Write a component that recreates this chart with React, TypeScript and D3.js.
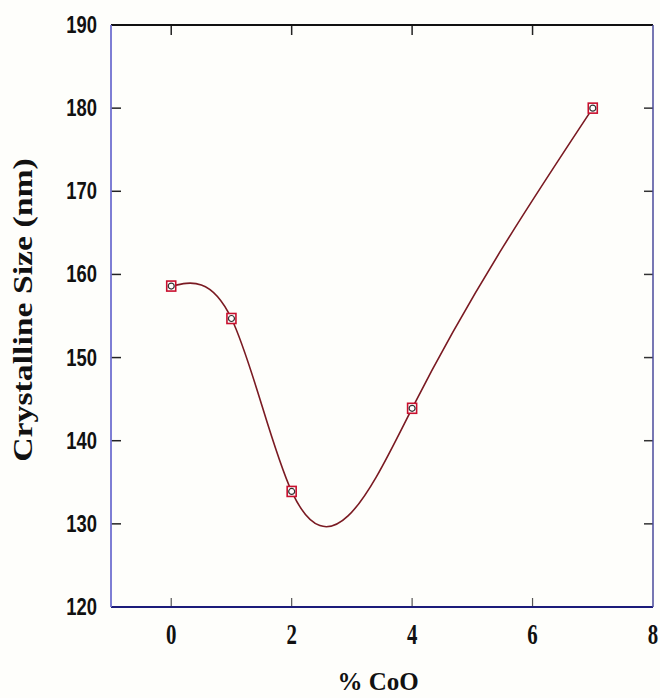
import * as d3 from "d3";
import React, { useEffect, useRef } from "react";

// CoO content (%) and measured crystalline size (nm)
const coo = [0, 1, 2, 4, 7];
const sizeNm = [158.6, 154.7, 133.9, 143.9, 180];

const xTicks = [0, 2, 4, 6, 8];
const yTicks = [120, 130, 140, 150, 160, 170, 180, 190];

const W = 660;
const H = 698;
const margin = { top: 25, right: 7, bottom: 91, left: 111 };

// natural cubic spline y(x) -> slopes at the knots
function splineSlopes(xs: number[], ys: number[]) {
    const n = xs.length - 1;
    const h = d3.range(n).map(i => xs[i + 1] - xs[i]);
    const d = d3.range(n).map(i => (ys[i + 1] - ys[i]) / h[i]);
    // tridiagonal solve for second derivatives, M0 = Mn = 0
    const a: number[] = [], b: number[] = [], c: number[] = [], r: number[] = [];
    for (let i = 1; i < n; i++) {
        a.push(h[i - 1]); b.push(2 * (h[i - 1] + h[i])); c.push(h[i]);
        r.push(6 * (d[i] - d[i - 1]));
    }
    const m = a.length;
    for (let i = 1; i < m; i++) {
        const w = a[i] / b[i - 1];
        b[i] -= w * c[i - 1];
        r[i] -= w * r[i - 1];
    }
    const inner = new Array(m).fill(0);
    for (let i = m - 1; i >= 0; i--) {
        inner[i] = (r[i] - (i < m - 1 ? c[i] * inner[i + 1] : 0)) / b[i];
    }
    const M = [0, ...inner, 0];
    const slopes = d3.range(n).map(i => d[i] - h[i] * (2 * M[i] + M[i + 1]) / 6);
    slopes.push(d[n - 1] + h[n - 1] * (M[n - 1] + 2 * M[n]) / 6);
    return slopes;
}

export default function App() {
    const svgRef = useRef<SVGSVGElement>(null);

    useEffect(() => {
        document.body.style.margin = "0";
        const svg = d3.select(svgRef.current);
        svg.selectAll("*").remove();

        const width = W - margin.left - margin.right;
        const height = H - margin.top - margin.bottom;

        const x = d3.scaleLinear().domain([-1, 8]).range([0, width]);
        const y = d3.scaleLinear().domain([120, 190]).range([height, 0]);

        svg.append("rect").attr("width", W).attr("height", H).attr("fill", "#fefefb");

        const g = svg.append("g")
            .attr("transform", `translate(${margin.left},${margin.top})`);

        // inward ticks
        const inner = xTicks.filter(d => d > -1 && d < 8);
        const innerY = yTicks.filter(d => d > 120 && d < 190);
        g.append("g").selectAll("line").data(inner).join("line")
            .attr("x1", d => x(d)).attr("x2", d => x(d))
            .attr("y1", height).attr("y2", height - 9)
            .attr("stroke", "#555").attr("stroke-width", 1.2);
        g.append("g").selectAll("line").data(inner).join("line")
            .attr("x1", d => x(d)).attr("x2", d => x(d))
            .attr("y1", 0).attr("y2", 10)
            .attr("stroke", "#222").attr("stroke-width", 1.5);
        g.append("g").selectAll("line").data(innerY).join("line")
            .attr("x1", 0).attr("x2", 10)
            .attr("y1", d => y(d)).attr("y2", d => y(d))
            .attr("stroke", "#222").attr("stroke-width", 1.5);
        g.append("g").selectAll("line").data(innerY).join("line")
            .attr("x1", width).attr("x2", width - 9)
            .attr("y1", d => y(d)).attr("y2", d => y(d))
            .attr("stroke", "#333").attr("stroke-width", 1.5);

        // frame
        g.append("line").attr("x1", 0).attr("x2", width).attr("y1", 0).attr("y2", 0)
            .attr("stroke", "#111").attr("stroke-width", 1.8);
        g.append("line").attr("x1", 0).attr("x2", width).attr("y1", height).attr("y2", height)
            .attr("stroke", "#1c1c7a").attr("stroke-width", 2);
        g.append("line").attr("x1", 0).attr("x2", 0).attr("y1", 0).attr("y2", height)
            .attr("stroke", "#7070d0").attr("stroke-width", 1.8);
        g.append("line").attr("x1", width).attr("x2", width).attr("y1", 0).attr("y2", height)
            .attr("stroke", "#4a4a9a").attr("stroke-width", 1.5);

        // tick labels
        g.append("g").selectAll("text").data(yTicks).join("text")
            .attr("transform", d => `translate(-14,${y(d) + 8}) scale(0.8,1)`)
            .attr("text-anchor", "end")
            .attr("font-family", "Liberation Sans, Arial, sans-serif")
            .attr("font-weight", "bold").attr("font-size", 23)
            .attr("fill", "#111")
            .text(d => d);
        g.append("g").selectAll("text").data(xTicks).join("text")
            .attr("transform", d => `translate(${x(d)},${height + 37}) scale(0.72,1)`)
            .attr("text-anchor", "middle")
            .attr("font-family", "Liberation Serif, Times New Roman, serif")
            .attr("font-weight", "bold").attr("font-size", 29)
            .attr("fill", "#111")
            .text(d => d);

        // axis titles
        svg.append("text")
            .attr("transform", `translate(32,310) rotate(-90) scale(1.25,1)`)
            .attr("text-anchor", "middle")
            .attr("font-family", "Liberation Serif, Times New Roman, serif")
            .attr("font-weight", "bold").attr("font-size", 27)
            .attr("fill", "#111")
            .text("Crystalline Size (nm)");
        svg.append("text")
            .attr("transform", `translate(378,690)`)
            .attr("text-anchor", "middle")
            .attr("font-family", "Liberation Serif, Times New Roman, serif")
            .attr("font-weight", "bold").attr("font-size", 25)
            .attr("fill", "#111")
            .text("% CoO");

        // natural cubic spline through the points, drawn as Bezier segments
        const slopes = splineSlopes(coo, sizeNm);
        const p = d3.path();
        p.moveTo(x(coo[0]), y(sizeNm[0]));
        for (let i = 0; i < coo.length - 1; i++) {
            const hh = coo[i + 1] - coo[i];
            p.bezierCurveTo(
                x(coo[i] + hh / 3), y(sizeNm[i] + slopes[i] * hh / 3),
                x(coo[i + 1] - hh / 3), y(sizeNm[i + 1] - slopes[i + 1] * hh / 3),
                x(coo[i + 1]), y(sizeNm[i + 1])
            );
        }
        g.append("path")
            .attr("d", p.toString())
            .attr("fill", "none")
            .attr("stroke", "#7a1a22")
            .attr("stroke-width", 1.6);

        // markers
        const pts = coo.map((c, i) => [c, sizeNm[i]] as [number, number]);
        const m = g.append("g").selectAll("g").data(pts).join("g")
            .attr("transform", d => `translate(${x(d[0])},${y(d[1])})`);
        m.append("rect").attr("x", -4.5).attr("y", -5).attr("width", 9).attr("height", 10)
            .attr("fill", "#fff").attr("stroke", "#c8102e").attr("stroke-width", 1.6);
        m.append("circle").attr("r", 3)
            .attr("fill", "none").attr("stroke", "#333").attr("stroke-width", 1.2);
    }, []);

    return <svg ref={svgRef} width={W} height={H} style={{ display: "block" }} />;
}
